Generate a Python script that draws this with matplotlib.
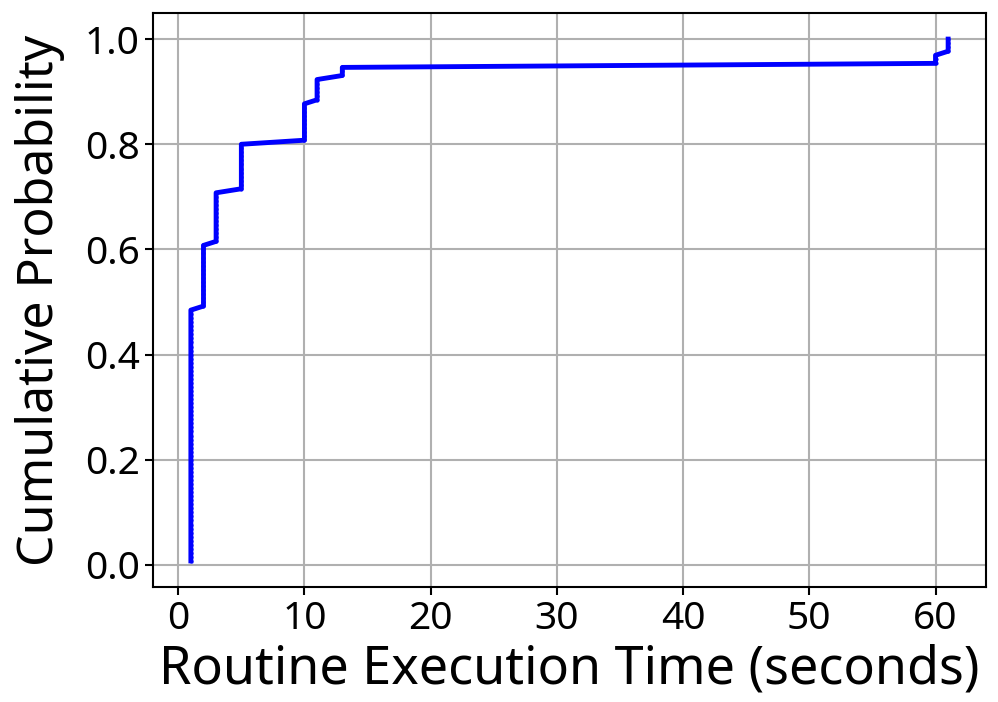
import numpy as np
import matplotlib
matplotlib.use("Agg")
import matplotlib.pyplot as plt

plt.rcParams['font.family'] = ['Noto Sans', 'DejaVu Sans']

# Execution times (seconds) and how many routines took each time
times = [1, 2, 3, 5, 10, 11, 13, 60, 61]
counts = [63, 16, 13, 12, 10, 6, 3, 3, 4]

samples = np.sort(np.repeat(times, counts))
cdf = np.arange(1, len(samples) + 1) / len(samples)

fig = plt.figure(figsize=(9.98, 7.02), dpi=100)
ax = fig.add_axes([153/998, (702-587)/702, (986-153)/998, (587-13)/702])

ax.plot(samples, cdf, color='#0000ff', linewidth=3.5, marker='.', markersize=4)

ax.grid(True, color='#b0b0b0', linewidth=1.5)
ax.set_axisbelow(True)
for s in ax.spines.values():
    s.set_linewidth(1.5)

ax.set_xticks([0, 10, 20, 30, 40, 50, 60])
ax.set_yticks([0.0, 0.2, 0.4, 0.6, 0.8, 1.0])
ax.tick_params(labelsize=28, length=6, width=1.5)
ax.set_xlabel('Routine Execution Time (seconds)', fontsize=37.5)
ax.set_ylabel('Cumulative Probability', fontsize=36, labelpad=14)

fig.savefig('out.png', dpi=100)
